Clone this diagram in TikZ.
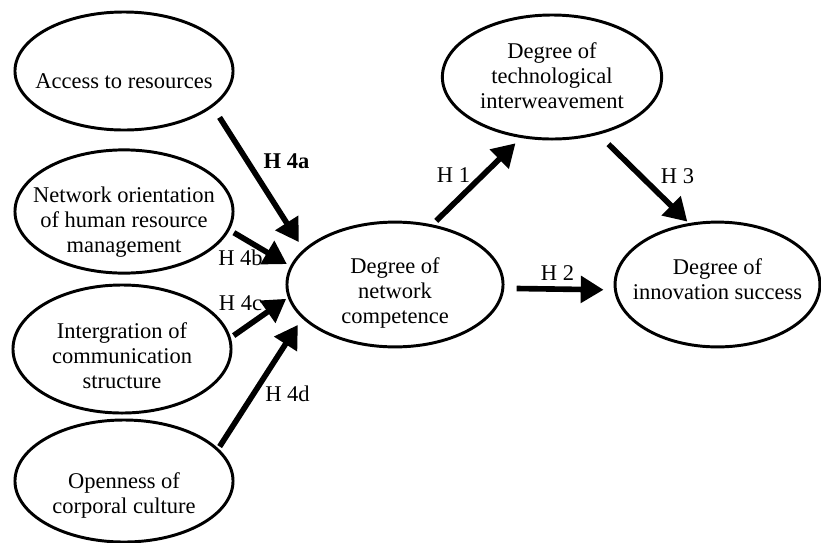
\documentclass[tikz,border=0pt]{standalone}
\usepackage{fontspec}
\setmainfont{Liberation Serif}
\usetikzlibrary{shapes.geometric,arrows.meta}

\tikzset{
  oval/.style={ellipse, draw, line width=2.1pt, inner sep=0pt},
  txt/.style={align=center, font=\fontsize{16pt}{17.8pt}\selectfont, inner sep=0pt},
  hyp/.style={font=\fontsize{16pt}{17.8pt}\selectfont, inner sep=0pt},
  link/.style={line width=4pt, -{Triangle[length=0.57cm,width=0.65cm]}}
}

\begin{document}
\begin{tikzpicture}[x=0.025cm, y=-0.025cm]
\useasboundingbox (0,0) rectangle (821,542);

% determinants (left column)
\node[oval, minimum width=5.45cm, minimum height=2.95cm,
      label={[txt,yshift=-0.26cm]center:Access to resources}] (acc) at (124,71) {};
\node[oval, minimum width=5.45cm, minimum height=3.08cm,
      label={[txt,yshift=-0.27cm]center:Network orientation\\of human resource\\management}] (hrm) at (124,211.5) {};
\node[oval, minimum width=5.45cm, minimum height=3.2cm,
      label={[txt,yshift=-0.16cm]center:Intergration of\\communication\\structure}] (com) at (122,349) {};
\node[oval, minimum width=5.45cm, minimum height=3.05cm,
      label={[txt,yshift=-0.36cm]center:Openness of\\corporal culture}] (cul) at (124,481) {};

% central construct and outcomes
\node[oval, minimum width=5.4cm, minimum height=3.12cm,
      label={[txt,yshift=-0.21cm]center:Degree of\\network\\competence}] (net) at (395,284.5) {};
\node[oval, minimum width=5.48cm, minimum height=3.1cm,
      label={[txt,yshift=0.04cm]center:Degree of\\technological\\interweavement}] (tec) at (552,77) {};
\node[oval, minimum width=5.12cm, minimum height=3.12cm,
      label={[txt,yshift=0.14cm]center:Degree of\\innovation success}] (suc) at (717.5,284.5) {};

% hypotheses
\draw[link, shorten <=0.31cm, shorten >=0.215cm] (acc.-22.2) -- (net.159.2);
\draw[link, shorten <=0.125cm, shorten >=0.095cm] (hrm.-10.4) -- (net.170.4);
\draw[link, shorten <=0.0875cm, shorten >=0.05cm] (com.6.5) -- (net.187.7);
\draw[link, shorten <=0.058cm, shorten >=0.195cm] (cul.19.1) -- (net.200.6);
\draw[link, shorten <=0.13cm, shorten >=0.19cm] (net.58.4) -- (tec.243.6);
\draw[link, shorten <=0.34cm, shorten >=0.0525cm] (tec.-51.2) -- (suc.115.8);
\draw[link, shorten <=0.31cm, shorten >=0.26cm] (net.-2.9) -- (suc.183.1);

% hypothesis labels
\node[hyp] (h4a) at (286.5,161.5) {\textbf{H 4a}};
\node[hyp] (h4b) at (240.5,257.5) {H 4b};
\node[hyp] (h4c) at (240.5,303) {H 4c};
\node[hyp] (h4d) at (287.5,394) {H 4d};
\node[hyp] (h1) at (453.5,175.5) {H 1};
\node[hyp] (h2) at (557.5,273) {H 2};
\node[hyp] (h3) at (677.5,176.5) {H 3};
\end{tikzpicture}
\end{document}
